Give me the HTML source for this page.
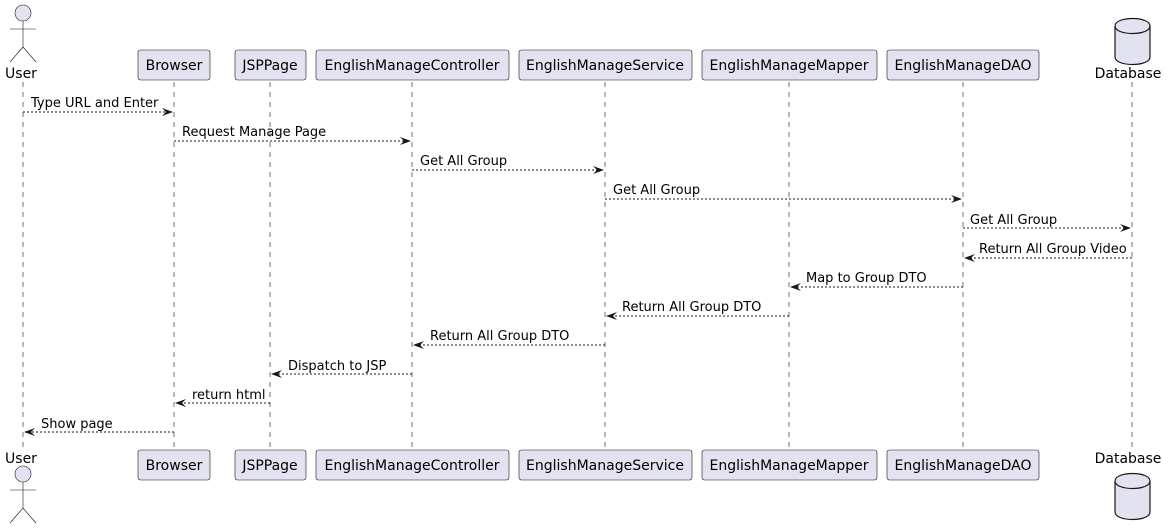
<!DOCTYPE html>
<html><head><meta charset="utf-8"><style>
html,body{margin:0;padding:0;background:#fff;}
svg{display:block;font-family:"DejaVu Sans","Liberation Sans",sans-serif;}
</style></head><body>
<svg width="1169" height="530" viewBox="0 0 1169 530" xmlns="http://www.w3.org/2000/svg">
<g stroke="#181818" stroke-width="0.6" stroke-dasharray="5,5" fill="none">
<line x1="23" y1="82" x2="23" y2="448"/>
<line x1="174" y1="82" x2="174" y2="448"/>
<line x1="270" y1="82" x2="270" y2="448"/>
<line x1="412" y1="82" x2="412" y2="448"/>
<line x1="605" y1="82" x2="605" y2="448"/>
<line x1="789" y1="82" x2="789" y2="448"/>
<line x1="963" y1="82" x2="963" y2="448"/>
<line x1="1132" y1="82" x2="1132" y2="448"/>
</g>
<g fill="#E2E2F0" stroke="#181818" stroke-width="0.6">
<rect x="138" y="50" width="72" height="30" rx="2.5"/>
<rect x="235" y="50" width="71" height="30" rx="2.5"/>
<rect x="316" y="50" width="193" height="30" rx="2.5"/>
<rect x="519" y="50" width="173" height="30" rx="2.5"/>
<rect x="702" y="50" width="175" height="30" rx="2.5"/>
<rect x="887" y="50" width="152" height="30" rx="2.5"/>
<rect x="138" y="450" width="72" height="30" rx="2.5"/>
<rect x="235" y="450" width="71" height="30" rx="2.5"/>
<rect x="316" y="450" width="193" height="30" rx="2.5"/>
<rect x="519" y="450" width="173" height="30" rx="2.5"/>
<rect x="702" y="450" width="175" height="30" rx="2.5"/>
<rect x="887" y="450" width="152" height="30" rx="2.5"/>
</g>
<g font-size="14" fill="#000" text-anchor="middle">
<text x="174" y="70">Browser</text><text x="270" y="70">JSPPage</text><text x="412" y="70">EnglishManageController</text><text x="605" y="70">EnglishManageService</text><text x="789" y="70">EnglishManageMapper</text><text x="963" y="70">EnglishManageDAO</text>
<text x="174" y="470">Browser</text><text x="270" y="470">JSPPage</text><text x="412" y="470">EnglishManageController</text><text x="605" y="470">EnglishManageService</text><text x="789" y="470">EnglishManageMapper</text><text x="963" y="470">EnglishManageDAO</text>
<text x="21" y="78">User</text><text x="21" y="463">User</text>
<text x="1128" y="78">Database</text><text x="1128" y="463">Database</text>
</g>
<!-- actors -->
<g fill="#E2E2F0" stroke="#181818" stroke-width="0.6">
<circle cx="23" cy="13" r="8"/>
<path d="M23 21 V47 M10 29 H36 M23 47 L10 62 M23 47 L36 62" fill="none"/>
<circle cx="23" cy="474" r="8"/>
<path d="M23 482 V508 M10 490 H36 M23 508 L10 523 M23 508 L36 523" fill="none"/>
</g>
<!-- databases -->
<g fill="#E2E2F0" stroke="#181818" stroke-width="1.2">
<path d="M1115 26 C1115 16 1150 16 1150 26 V57 C1150 67 1115 67 1115 57 Z"/>
<path d="M1115 26 C1115 36 1150 36 1150 26" fill="none"/>
<path d="M1115 481 C1115 471 1150 471 1150 481 V512 C1150 522 1115 522 1115 512 Z"/>
<path d="M1115 481 C1115 491 1150 491 1150 481" fill="none"/>
</g>
<!-- messages -->
<g stroke="#181818" stroke-width="1" stroke-dasharray="2,2" fill="none">
<line x1="23" y1="112" x2="172" y2="112"/>
<line x1="174" y1="141" x2="410" y2="141"/>
<line x1="412" y1="170" x2="603" y2="170"/>
<line x1="605" y1="199" x2="961" y2="199"/>
<line x1="963" y1="228" x2="1130" y2="228"/>
<line x1="1132" y1="258" x2="965" y2="258"/>
<line x1="963" y1="287" x2="791" y2="287"/>
<line x1="789" y1="316" x2="607" y2="316"/>
<line x1="605" y1="345" x2="414" y2="345"/>
<line x1="412" y1="374" x2="272" y2="374"/>
<line x1="270" y1="403" x2="176" y2="403"/>
<line x1="174" y1="432" x2="25" y2="432"/>
</g>
<g fill="#181818">
<polygon points="162,108 173,112 162,116 166,112"/>
<polygon points="400,137 411,141 400,145 404,141"/>
<polygon points="593,166 604,170 593,174 597,170"/>
<polygon points="951,195 962,199 951,203 955,199"/>
<polygon points="1120,224 1131,228 1120,232 1124,228"/>
<polygon points="975,254 964,258 975,262 971,258"/>
<polygon points="801,283 790,287 801,291 797,287"/>
<polygon points="617,312 606,316 617,320 613,316"/>
<polygon points="424,341 413,345 424,349 420,345"/>
<polygon points="282,370 271,374 282,378 278,374"/>
<polygon points="186,399 175,403 186,407 182,403"/>
<polygon points="35,428 24,432 35,436 31,432"/>
</g>
<g font-size="13" fill="#000">
<text x="31" y="107">Type URL and Enter</text>
<text x="182" y="136">Request Manage Page</text>
<text x="420" y="165">Get All Group</text>
<text x="613" y="194">Get All Group</text>
<text x="970" y="224">Get All Group</text>
<text x="979" y="253">Return All Group Video</text>
<text x="806" y="282">Map to Group DTO</text>
<text x="622" y="311">Return All Group DTO</text>
<text x="430" y="340">Return All Group DTO</text>
<text x="288" y="370">Dispatch to JSP</text>
<text x="192" y="399">return html</text>
<text x="41" y="428">Show page</text>
</g>
</svg>
</body></html>
